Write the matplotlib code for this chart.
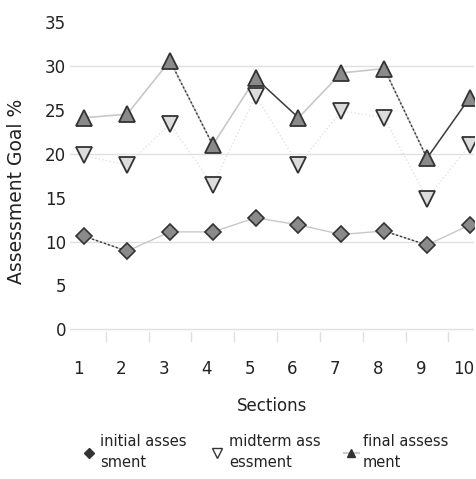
import matplotlib.pyplot as plt
from matplotlib.lines import Line2D
import matplotlib.transforms as mtransforms

sections = [1, 2, 3, 4, 5, 6, 7, 8, 9, 10]
initial = [10.6, 8.9, 11.1, 11.1, 12.7, 11.9, 10.8, 11.2, 9.6, 11.9]
midterm = [19.8, 18.7, 23.4, 16.4, 26.6, 18.7, 24.9, 24.1, 14.9, 21.0]
final = [24.1, 24.5, 30.6, 21.0, 28.6, 24.1, 29.2, 29.7, 19.5, 26.4]

labels = ['initial asses\nsment', 'midterm ass\nessment', 'final assess\nment']

fig = plt.figure(figsize=(4.77, 4.79), dpi=100)
ax = fig.add_axes([0.147, 0.307, 0.847, 0.647])


def dark_segments(ys, idx, ls):
    # darker strokes on a few of the connecting segments
    for i in idx:
        ax.plot(sections[i:i + 2], ys[i:i + 2], color='#3a3a3a', lw=1.0,
                ls=ls, zorder=2.5)


# grey connecting lines first, markers on top
ax.plot(sections, initial, color='#c8c8c8', lw=1, ls='-', zorder=2)
ax.plot(sections, midterm, color='#e2e2e2', lw=1, ls=':', zorder=2)
ax.plot(sections, final, color='#c8c8c8', lw=1.2, ls='-', zorder=2)
dark_segments(initial, [0, 7], (0, (1.5, 1.5)))
dark_segments(final, [2, 7], (0, (1.5, 1.5)))
dark_segments(final, [4, 8], '-')

ax.plot(sections, initial, ls='none', marker='D', ms=8,
        mfc='#8a8a8a', mec='#333333', mew=1.2, zorder=3)
ax.plot(sections, midterm, ls='none', marker='v', ms=12,
        mfc='#dcdcdc', mec='#333333', mew=1.3, zorder=3)
ax.plot(sections, final, ls='none', marker='^', ms=12,
        mfc='#8a8a8a', mec='#333333', mew=1.3, zorder=4)

ax.set_xlim(0.67, 10.1)
ax.set_ylim(-0.3, 35)
ax.set_yticks(range(0, 36, 5))
ax.set_xticks(sections)
ax.tick_params(axis='both', length=0, labelsize=12, colors='#222222')
ax.tick_params(axis='x', pad=20)
ax.tick_params(axis='y', pad=3)

# nudge the section numbers a little to the left
shift = mtransforms.ScaledTranslation(-6 / 100, 0, fig.dpi_scale_trans)
for lbl in ax.get_xticklabels():
    lbl.set_transform(lbl.get_transform() + shift)

for s in ['top', 'right', 'left', 'bottom']:
    ax.spines[s].set_visible(False)
for yv in [0, 10, 20, 30]:
    ax.axhline(yv, color='#e0e0e0', lw=1, zorder=1)
for xv in [1.5, 2.5, 3.5, 4.5, 5.5, 6.5, 7.5, 8.5, 9.5]:
    ax.plot([xv, xv], [-0.3, -1.3], color='#e0e0e0', lw=1, clip_on=False)

ax.set_ylabel('Assessment Goal %', fontsize=13.5, color='#222222')
ax.yaxis.set_label_coords(-0.108, 0.455)
ax.set_xlabel('Sections', fontsize=12, color='#222222', labelpad=14)

handles = [
    Line2D([], [], ls='none', marker='D', ms=5, color='#333333'),
    Line2D([], [], ls='none', marker='v', ms=7, mfc='white', mec='#333333'),
    Line2D([], [], ls='-', color='#cccccc', marker='^', ms=6, mfc='#333333', mec='#333333'),
]
leg = fig.legend(handles, labels, loc='lower left', bbox_to_anchor=(0.143, -0.008),
                 ncol=3, frameon=False, fontsize=10.5, handlelength=1.0,
                 handletextpad=0.3, columnspacing=1.6, labelcolor='#222222')
for t in leg.get_texts():
    t.set_linespacing(1.5)

fig.savefig('out.png', dpi=100)
